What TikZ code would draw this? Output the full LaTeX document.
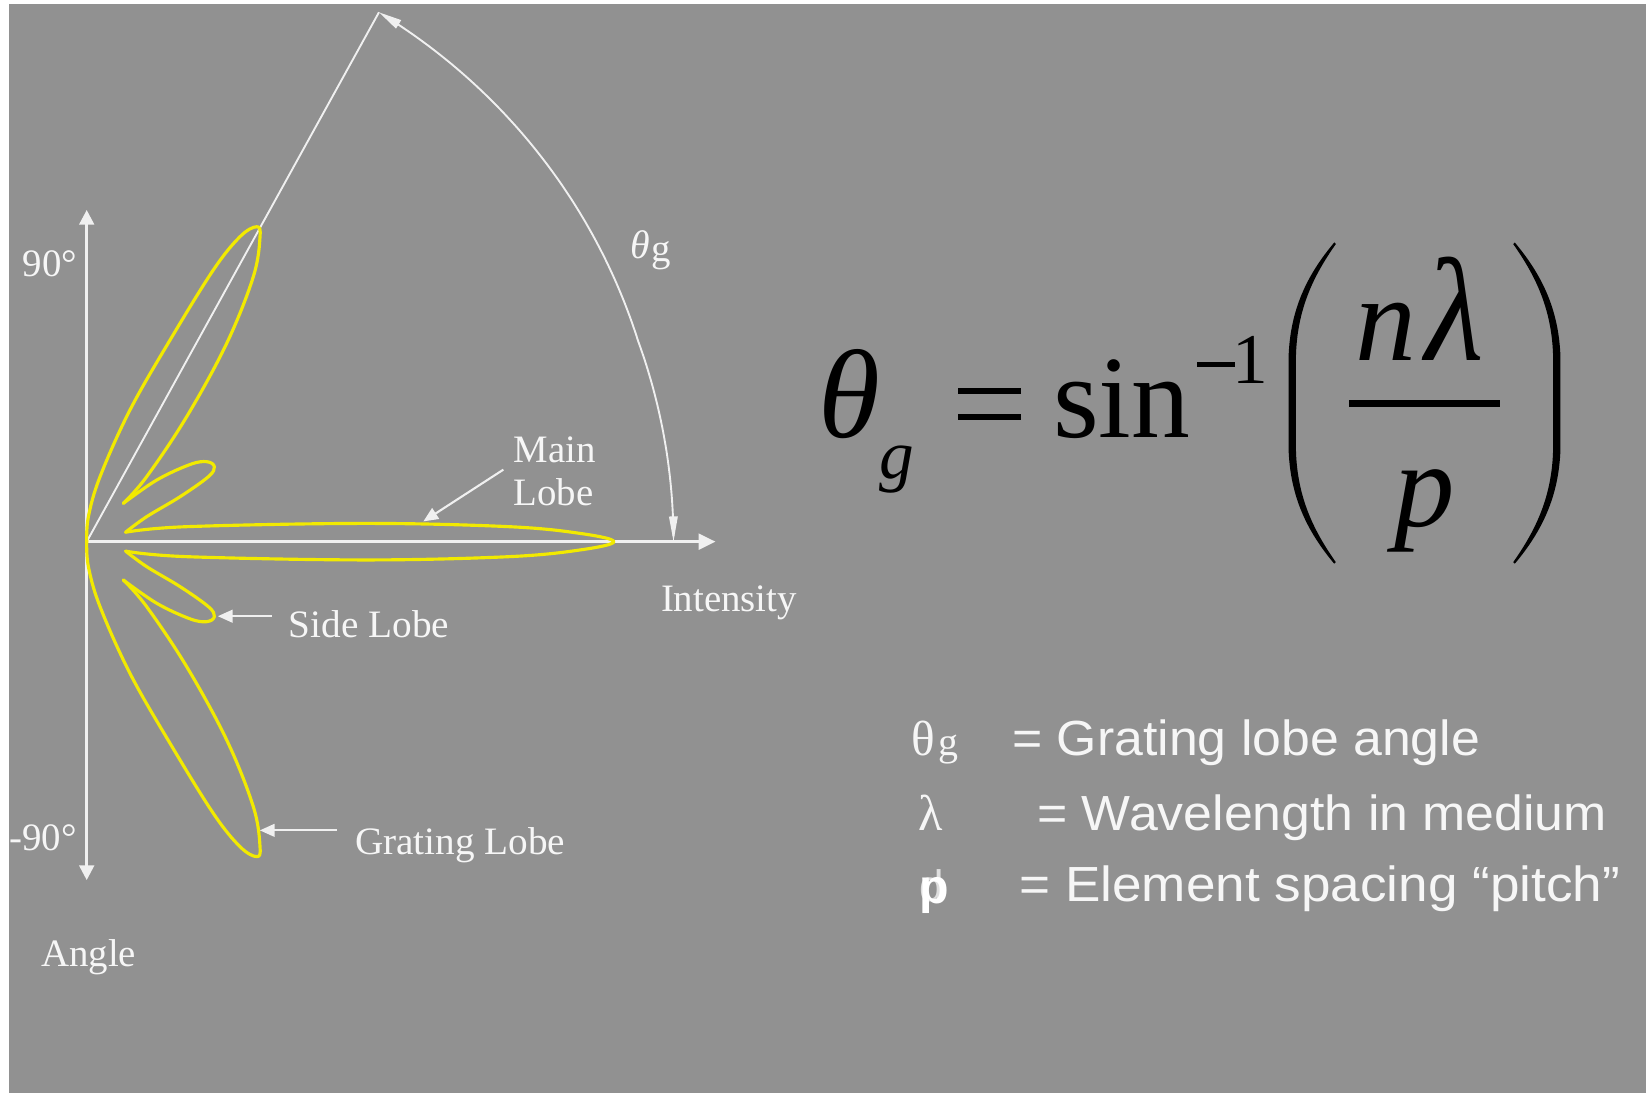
\documentclass[tikz,border=0pt]{standalone}
\usepackage{fontspec}
\setmainfont{Liberation Serif}
\newfontfamily\lsans{Liberation Sans}
\usetikzlibrary{arrows.meta}
\definecolor{bg}{RGB}{145,145,145}
\definecolor{ln}{RGB}{240,240,240}
\definecolor{txt}{RGB}{246,246,246}
\definecolor{faint}{RGB}{222,222,222}
\definecolor{lobe}{RGB}{242,234,0}
\newcommand{\halflobes}{%
  \draw[lobeline] plot[smooth, tension=0.6] coordinates {(0,0) (1.6,-23.8) (12.7,-61.9) (41.2,-125.4) (79.4,-192.1) (120.6,-258.8) (146,-290.5) (161.9,-300) (165.1,-290.5) (158.7,-252.4) (133.4,-189) (95.2,-119) (57.1,-61.9) (34.9,-36.5)};
  \draw[lobeline] plot[smooth, tension=0.6] coordinates {(34.9,-36.5) (66.7,-58.7) (98.4,-73.5) (114.3,-76.2) (121.6,-71.4) (115.9,-61.9) (88.9,-42.8) (57.1,-23.8) (37,-9)};
}
\begin{document}
\begin{tikzpicture}[x=1pt,y=-1pt,
  lobeline/.style={draw=lobe, line width=3pt, line join=round, line cap=round},
  wline/.style={draw=ln, line width=1.8pt},
  axisline/.style={draw=ln, line width=2.6pt},
  ptr/.style={draw=ln, line width=2pt, -{Triangle[length=14pt,width=12pt]}},
  lbl/.style={text=txt, inner sep=0pt, anchor=base west, font=\fontsize{37}{40}\selectfont},
  leg/.style={text=txt, inner sep=0pt, anchor=base west, font=\lsans\fontsize{47}{52}\selectfont, xscale=1.05},
  eq/.style={text=black, inner sep=0pt, anchor=base},
]
\useasboundingbox (0,0) rectangle (1568,1041);
\fill[white] (0,0) rectangle (1568,1041);
\fill[bg] (8.6,3.8) rectangle (1568,1041);

% ---------- axes and construction lines ----------
\coordinate (O) at (82.6,516);
\coordinate (ytop) at (82.6,200);
\coordinate (ybot) at (82.6,838.4);
\coordinate (xend) at (681.6,516);
\coordinate (apex) at (361,11.7);

\draw[axisline, {Triangle[length=14pt,width=14pt]}-{Triangle[length=14pt,width=14pt]}] (ybot) -- (ytop);
\draw[axisline, -{Triangle[length=16pt,width=15pt]}] (O) -- (xend);
\draw[wline] (O) -- (apex);
\draw[wline, {Triangle[length=22pt,width=9pt]}-{Triangle[length=24pt,width=8pt]}]
  plot[domain=61.1:0, samples=90, smooth, variable=\t]
  ({82.6+(559+17*max(0,\t-20)/41)*cos(\t)}, {516-(559+17*max(0,\t-20)/41)*sin(\t)});

% ---------- lobes ----------
\begin{scope}[shift={(82.6,516)}]
  \halflobes
  \draw[lobeline] plot[smooth, tension=0.6] coordinates {(37,-9) (95.7,-14.3) (265.8,-17.4) (401.9,-14.3) (469.9,-7.9) (502.2,0) (469.9,7.9) (401.9,14.3) (265.8,17.4) (95.7,14.3) (37,9)};
\end{scope}
\begin{scope}[shift={(82.6,516)}, yscale=-1]
  \halflobes
\end{scope}

% ---------- labels ----------
\node[lbl] (l90) at (21.5,263.7) {90°};
\node[lbl] (lm90) at (8.6,810.5) {-90°};
\node[lbl] (angle) at (39,920.8) {Angle};
\node[lbl] (intens) at (629.5,582.4) {Intensity};
\node[lbl, xscale=1.01] (side) at (275,607.5) {Side Lobe};
\node[lbl, xscale=1.01] (grat) at (338,814) {Grating Lobe};
\node[lbl] (main1) at (489,440.6) {Main};
\node[lbl] (main2) at (489,481.4) {Lobe};
\node[lbl, font=\fontsize{38}{40}\selectfont\itshape] (thl) at (600,246.7) {θ};
\node[lbl, font=\fontsize{37}{40}\selectfont] (thlg) at (620,249) {g};

\coordinate (mainA) at (479.5,447.4);
\coordinate (mainB) at (403.3,496.7);
\coordinate (sideA) at (259,587);
\coordinate (sideB) at (207.5,587);
\coordinate (gratA) at (321,791);
\coordinate (gratB) at (247.5,791);
\draw[ptr] (mainA) -- (mainB);
\draw[ptr] (sideA) -- (sideB);
\draw[ptr] (gratA) -- (gratB);

% ---------- equation ----------
\node[eq, font=\fontsize{120}{124}\selectfont\itshape] (eqth) at (809.5,417) {θ};
\node[eq, font=\fontsize{66}{70}\selectfont\itshape] (eqg) at (854.5,456) {g};
\fill[black] (912.7,370) rectangle (973,375.4);
\fill[black] (912.7,394.7) rectangle (973,400.1);
\node[eq, font=\fontsize{112}{120}\selectfont] (eqsin) at (1068.5,416.5) {sin};
\fill[black] (1140,344.6) rectangle (1176,349.3);
\node[eq, font=\fontsize{68}{70}\selectfont] (eqone) at (1191.4,365.2) {1};
\fill[black] (1271,231) .. controls (1245,262) and (1229,295) .. (1227.5,340) -- (1227.5,428)
  .. controls (1229,473) and (1245,506) .. (1271,537) -- (1272.5,535.5)
  .. controls (1251,505) and (1235.5,473) .. (1234.5,428) -- (1234.5,340)
  .. controls (1235.5,295) and (1251,263) .. (1272.5,232.5) -- cycle;
\fill[black] (1443,231) .. controls (1469,262) and (1485,295) .. (1486.5,340) -- (1486.5,428)
  .. controls (1485,473) and (1469,506) .. (1443,537) -- (1441.5,535.5)
  .. controls (1463,505) and (1478.5,473) .. (1479.5,428) -- (1479.5,340)
  .. controls (1478.5,295) and (1463,263) .. (1441.5,232.5) -- cycle;
\node[eq, font=\fontsize{116}{120}\selectfont\itshape] (eqn) at (1320,343) {n};
\node[eq, font=\fontsize{140}{144}\selectfont\itshape, xscale=0.92] (eqlam) at (1385.5,343) {λ};
\fill[black] (1285,381) rectangle (1429,388);
\node[eq, font=\fontsize{115}{120}\selectfont\itshape] (eqden) at (1357,502) {p};

% ---------- legend ----------
\node[lbl, font=\fontsize{47}{50}\selectfont] (sth) at (868,719.3) {θ};
\node[lbl, font=\fontsize{38}{40}\selectfont] (stg) at (894,720) {g};
\node[lbl, font=\fontsize{48}{50}\selectfont] (slam) at (875,790.7) {λ};
\node[lbl, text=faint, font=\lsans\fontsize{42}{45}\selectfont] (sd) at (876,859) {d};
\node[lbl, text=white, font=\lsans\bfseries\fontsize{46}{48}\selectfont] (sp) at (875.5,861) {p};
\node[leg] (t1) at (964,719.3) {= Grating lobe angle};
\node[leg] (t2) at (988,790.7) {= Wavelength in medium};
\node[leg, xscale=1.025] (t3) at (971,859) {= Element spacing “pitch”};
\end{tikzpicture}
\end{document}
